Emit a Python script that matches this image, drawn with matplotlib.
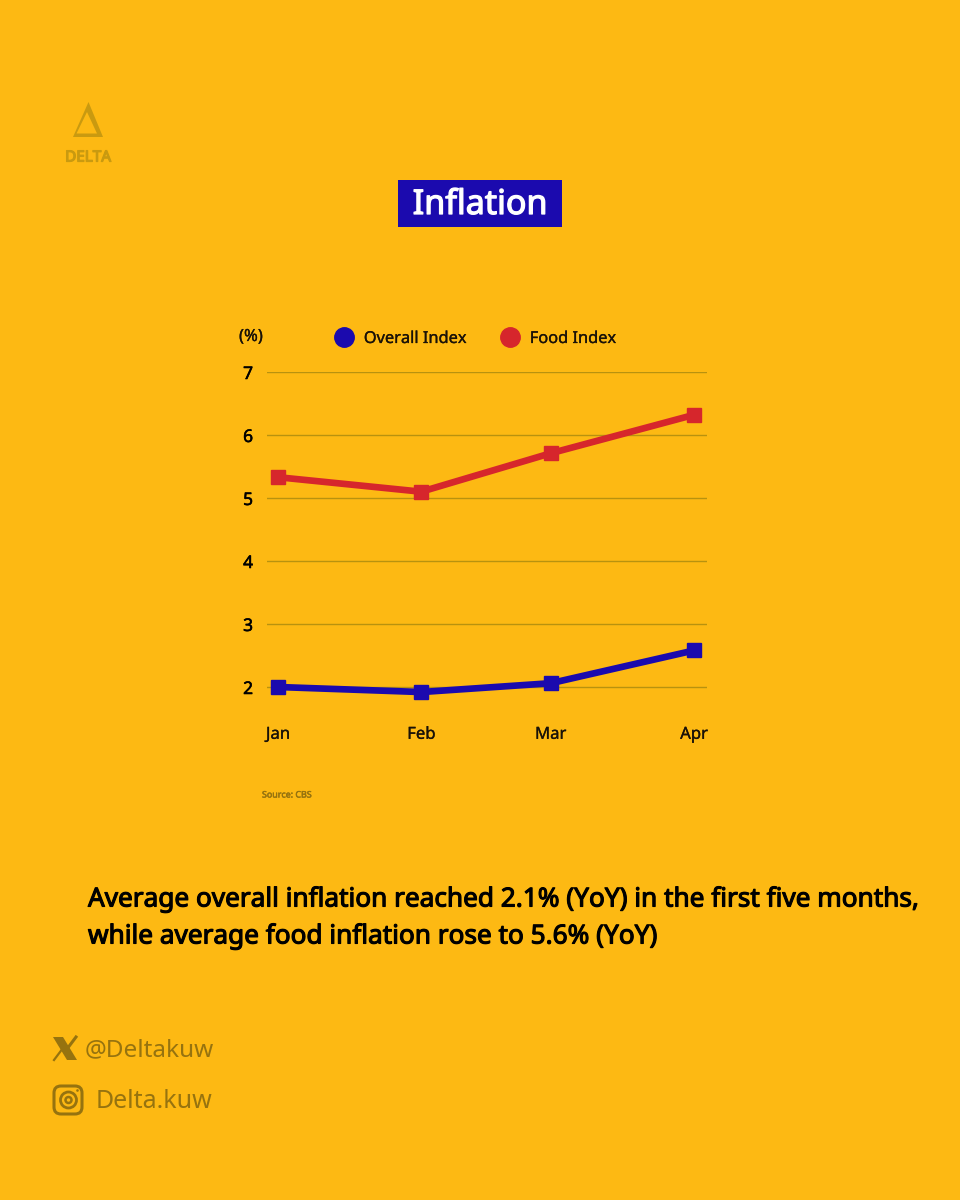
#Inflation chart, Delta
import pandas as pd
import matplotlib
matplotlib.use("Agg")
import matplotlib.pyplot as plt
import matplotlib.patheffects as pe
from matplotlib.lines import Line2D
from matplotlib.patches import Polygon, FancyBboxPatch, Circle, Rectangle

months = ["Jan", "Feb", "Mar", "Apr"]
dates = pd.to_datetime(["2025-01-01", "2025-02-01", "2025-03-01", "2025-04-01"])
overall_index = [2.0, 1.92, 2.06, 2.58]
food_index = [5.33, 5.10, 5.71, 6.32]
y_ticks = [2, 3, 4, 5, 6, 7]

BG, BLUE, RED = "#FDB913", "#1B0AAE", "#D6262C"
GRID, FADED, INK, LOGO = "#B8920F", "#96730F", "#1A1208", "#C99A10"

plt.rcParams["font.family"] = ["Noto Sans", "DejaVu Sans"]
W, H = 960, 1200
fig = plt.figure(figsize=(W / 100, H / 100), dpi=100, facecolor=BG)


# Noto Sans n'a pas de graisse bold ici, on epaissit au contour
def fat(color, w):
    return [pe.withStroke(linewidth=w, foreground=color)]


# calque plein cadre en pixels pour le logo, le titre et le pied de page
deco = fig.add_axes([0, 0, 1, 1])
deco.set_xlim(0, W)
deco.set_ylim(H, 0)
deco.axis("off")

# logo
deco.add_patch(Polygon([(88.5, 102), (73, 137), (103, 137)], closed=True, color=LOGO, lw=0))
deco.add_patch(Polygon([(87, 112), (76.5, 133.5), (97, 133.5)], closed=True, color=BG, lw=0))
deco.text(88, 158, "DELTA", color=LOGO, fontsize=11, ha="center", va="center", path_effects=fat(LOGO, 0.9))

# titre
deco.add_patch(Rectangle((398, 180), 164, 47, color=BLUE, lw=0))
deco.text(480, 205, "Inflation", color="white", fontsize=24.5, ha="center", va="center",
          path_effects=fat("white", 0.9))

deco.text(262, 795, "Source: CBS", color=FADED, fontsize=6.4, ha="left", va="center", path_effects=fat(FADED, 0.35))
deco.text(88, 900, "Average overall inflation reached 2.1% (YoY) in the first five months,", color="black",
          fontsize=18.85, ha="left", va="center", path_effects=fat("black", 0.8))
deco.text(88, 937, "while average food inflation rose to 5.6% (YoY)", color="black",
          fontsize=18.85, ha="left", va="center", path_effects=fat("black", 0.8))

# icone X
deco.add_patch(Polygon([(53, 1037), (63, 1037), (77, 1060), (67, 1060)], closed=True, color=FADED, lw=0))
deco.add_line(Line2D([54, 63], [1060, 1048], color=FADED, lw=1.6))
deco.add_line(Line2D([67, 76], [1049, 1037], color=FADED, lw=2.2))
deco.text(85, 1050, "@Deltakuw", color=FADED, fontsize=17.5, ha="left", va="center")

# icone instagram
deco.add_patch(FancyBboxPatch((57, 1089), 22, 22, boxstyle="round,pad=3,rounding_size=7", fill=False, ec=FADED, lw=2.2))
deco.add_patch(Circle((68.5, 1100), 8, fill=False, ec=FADED, lw=2))
deco.add_patch(Circle((68.5, 1100), 3, fill=False, ec=FADED, lw=1.8))
deco.add_patch(Circle((77.5, 1090.5), 1.3, color=FADED, lw=0))
deco.text(96, 1101, "Delta.kuw", color=FADED, fontsize=18, ha="left", va="center")

# graphique, 63 px par unite, l'axe descend sous 2 pour garder la ligne de grille
ax = fig.add_axes([267 / W, 1 - 699.6 / H, 440 / W, 327.6 / H], facecolor="none")
ax.plot(dates, food_index, color=RED, lw=4.8, marker="s", ms=9.5, clip_on=False, zorder=3)
ax.plot(dates, overall_index, color=BLUE, lw=4.8, marker="s", ms=9.5, clip_on=False, zorder=3)

px_per_day = (694 - 278) / (dates[3] - dates[0]).days
ax.set_xlim(dates[0] - pd.Timedelta(days=11 / px_per_day), dates[3] + pd.Timedelta(days=13 / px_per_day))
ax.set_ylim(1.8, 7)
ax.set_xticks(dates)
ax.set_xticklabels(months)
ax.set_yticks(y_ticks)
ax.tick_params(axis="x", length=0, pad=19.6, labelsize=12, labelcolor=INK)
ax.tick_params(axis="y", length=0, pad=10, labelsize=12.5, labelcolor="black")
ax.grid(axis="y", color=GRID, lw=1)
ax.grid(axis="x", visible=False)
ax.set_axisbelow(True)
for s in ax.spines.values():
    s.set_visible(False)
for lab in ax.get_yticklabels():
    lab.set_path_effects(fat("black", 0.4))
for lab in ax.get_xticklabels():
    lab.set_path_effects(fat(INK, 0.2))

deco.text(251, 337, "(%)", color=INK, fontsize=12, ha="center", va="center", path_effects=fat(INK, 0.2))
handles = [Line2D([], [], ls="", marker="o", ms=14, color=BLUE), Line2D([], [], ls="", marker="o", ms=14, color=RED)]
leg = fig.legend(handles, ["Overall Index", "Food Index"], ncol=2, frameon=False, fontsize=11.8, labelcolor=INK,
                 loc="center left", bbox_to_anchor=(313 / W, 1 - 339 / H), columnspacing=1.65, handletextpad=0.2)
for t in leg.get_texts():
    t.set_path_effects(fat(INK, 0.2))

fig.savefig("out.png", dpi=100, facecolor=BG)
